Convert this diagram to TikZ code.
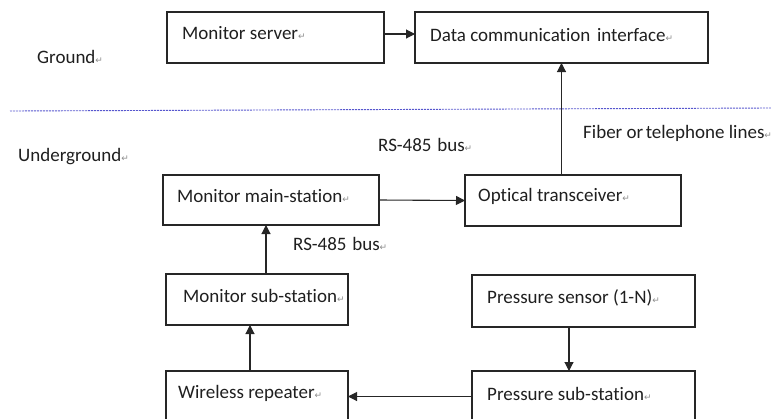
\documentclass[tikz,border=0pt]{standalone}
\usepackage{fontspec}
\setmainfont{Carlito}[Ligatures=NoCommon]
\newfontfamily\symfont{DejaVu Sans}
\usetikzlibrary{arrows.meta}
\newcommand{\pmk}{{\symfont\fontsize{9}{9}\selectfont\color{black!45}\char"21B5}}
\tikzset{
  box/.style={draw=black!85, line width=1.1pt, minimum width=#1, minimum height=51pt, inner sep=0pt, outer sep=0pt},
  lbl/.style={anchor=west, inner sep=0pt, font=\fontsize{19}{21}\selectfont, text=black!88},
  arr/.style={draw=black!85, line width=1.1pt, -{Triangle[length=9pt,width=9pt]}},
}
\begin{document}
\begin{tikzpicture}[x=1pt,y=-1pt]
\useasboundingbox (0,0) rectangle (771,418);
\clip (0,0) rectangle (771,418);
% boxes
\node[box=217pt] (srv)  at (275.5,37.5) {};
\node[box=293pt] (dci)  at (561.5,37.5) {};
\node[box=216pt, minimum height=50pt] (main) at (271,200) {};
\node[box=216pt] (opt)  at (573,200.5) {};
\node[box=182pt] (sub)  at (257,299.5) {};
\node[box=223pt, minimum height=52pt] (ps) at (583.5,301) {};
\node[box=182pt] (wr)   at (257,396.5) {};
\node[box=223pt] (pss)  at (583.5,396.5) {};
% labels
\node[lbl] (tsrv) at (182,33) {Monitor server\pmk};
\node[lbl] (tdci) at (430,35) {Data communication\hspace{0.35em}interface\pmk};
\node[lbl] (tgr)  at (37,57) {Ground\pmk};
\node[lbl] (tug)  at (18,157) {Underground\pmk};
\node[lbl] (trs1) at (378,145) {RS-485\hspace{0.3em}bus\pmk};
\node[lbl] (tfib) at (583,133) {Fiber or\hspace{0.13em}telephone lines\pmk};
\node[lbl] (tmain) at (177,196) {Monitor main-station\pmk};
\node[lbl] (topt) at (478,196) {Optical transceiver\pmk};
\node[lbl] (trs2) at (293,244) {RS-485\hspace{0.3em}bus\pmk};
\node[lbl] (tsub) at (183,296) {Monitor sub-station\pmk};
\node[lbl] (tps)  at (487,298) {Pressure sensor (1-N)\pmk};
\node[lbl] (twr)  at (178,393) {Wireless repeater\pmk};
\node[lbl] (tpss) at (487,394) {Pressure sub-station\pmk};
% ground line
\coordinate (gl) at (10,111);
\coordinate (gr) at (771,108);
\draw[draw=blue!55!gray!85, line width=0.9pt, dash pattern=on 2pt off 1pt] (gl) -- (gr);
% arrows
\draw[arr] ([yshift=3.5pt]srv.east) -- ([yshift=3.5pt]dci.west);
\draw[arr] (main.east) -- (opt.west);
\draw[arr] (opt.north -| dci.south) -- (dci.south);
\draw[arr] ([xshift=9pt]sub.north) -- ([xshift=9pt]sub.north |- main.south);
\draw[arr] ([xshift=-7pt]wr.north) -- ([xshift=-7pt]wr.north |- sub.south);
\draw[arr] ([xshift=-14.5pt]ps.south) -- ([xshift=-14.5pt]ps.south |- pss.north);
\draw[arr] (pss.west) -- (wr.east);
\end{tikzpicture}
\end{document}
